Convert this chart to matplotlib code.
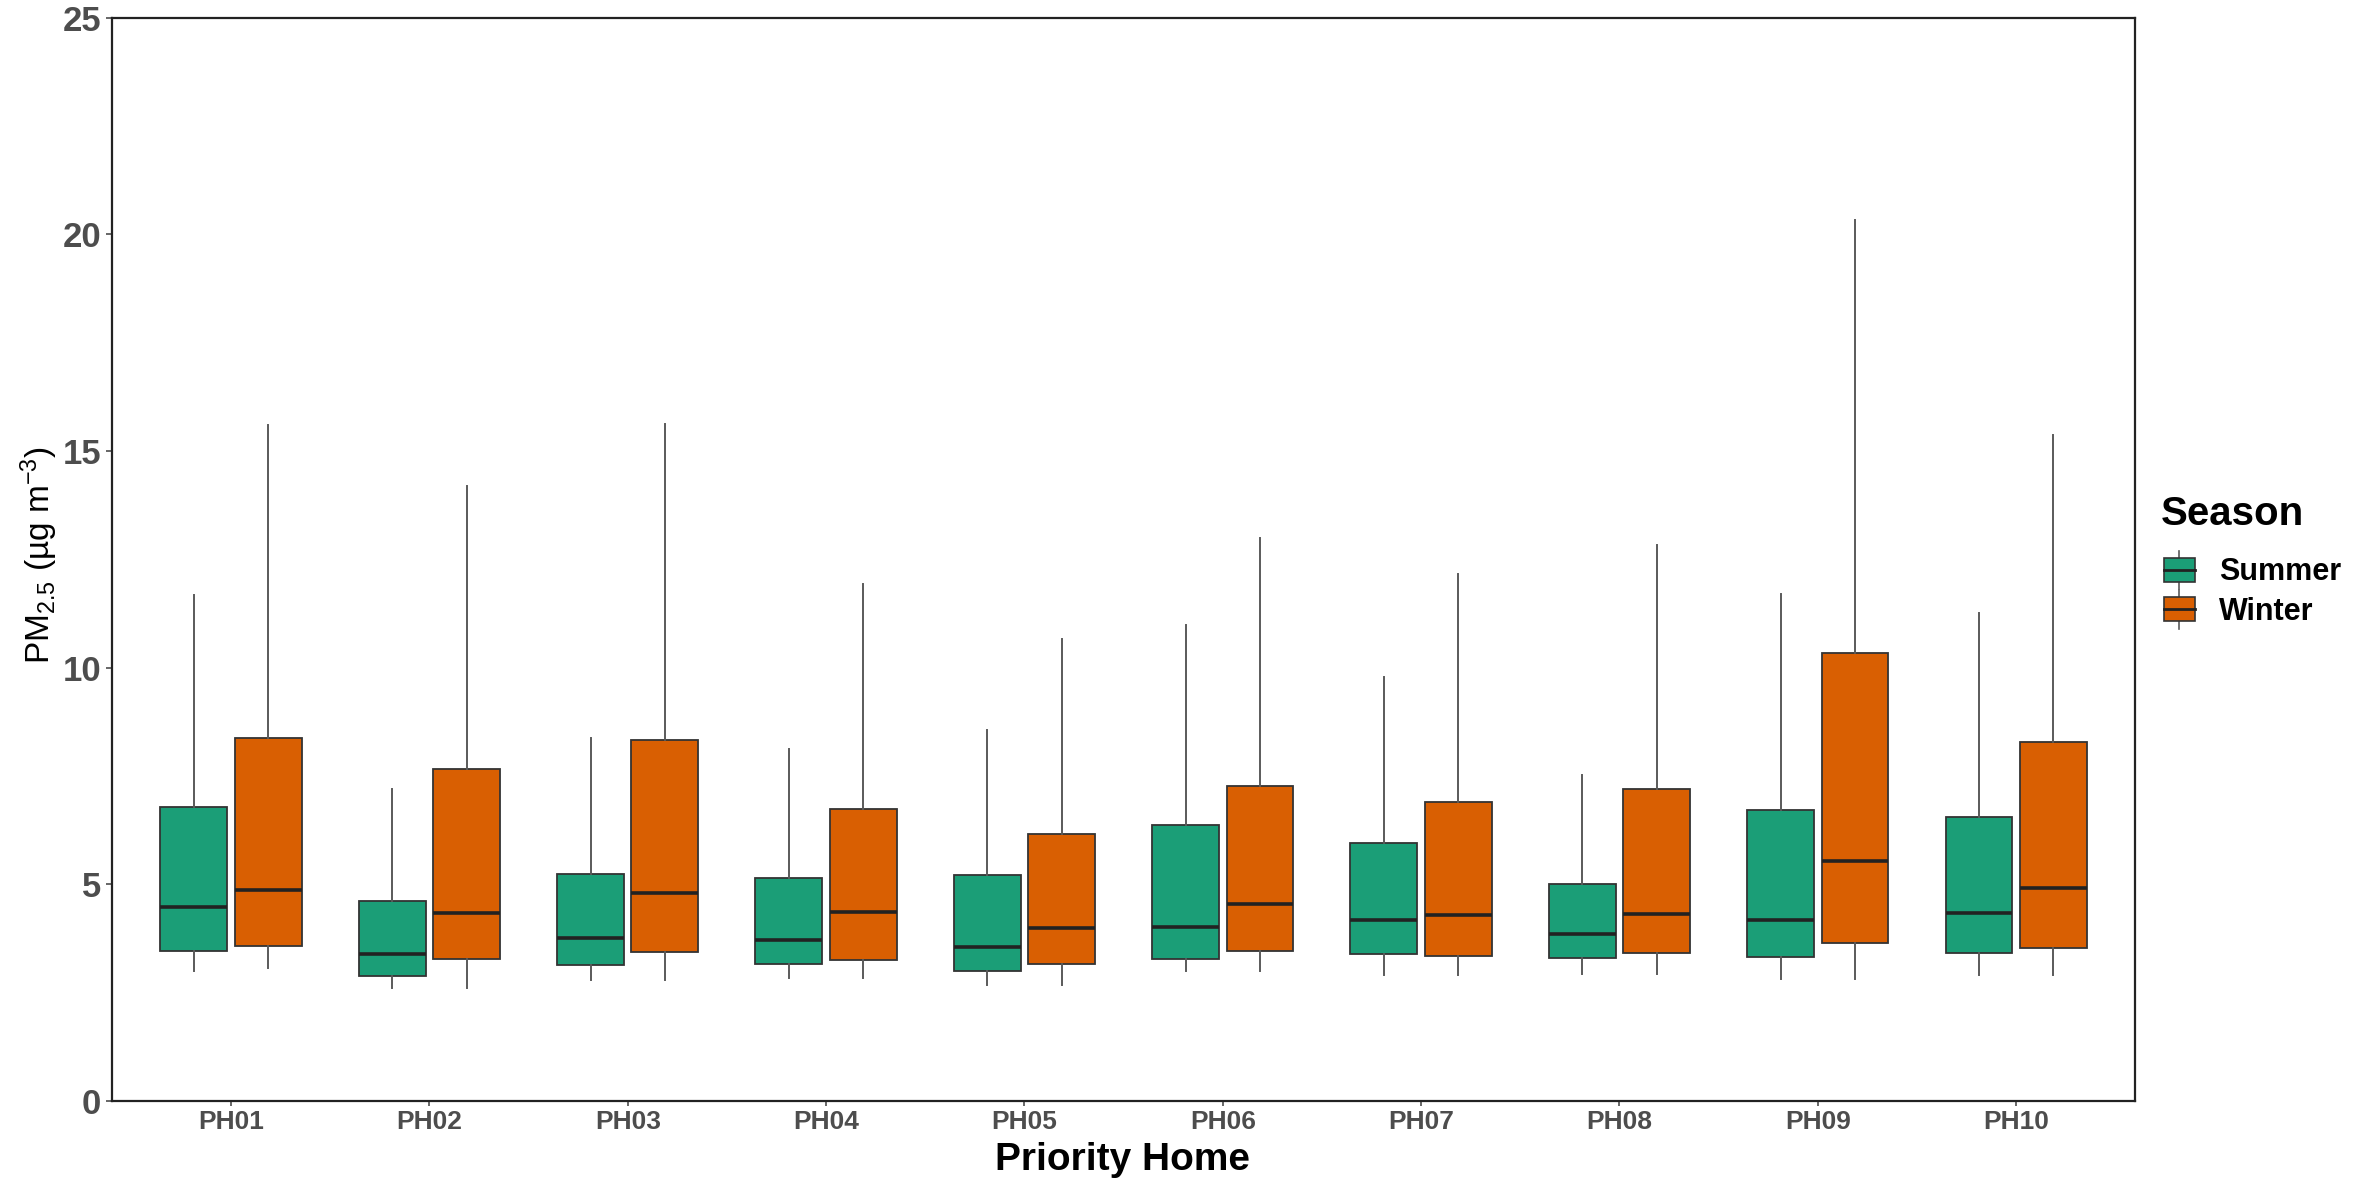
import matplotlib
matplotlib.use("Agg")
import matplotlib.pyplot as plt
from matplotlib.legend_handler import HandlerBase
from matplotlib.patches import Rectangle
from matplotlib.lines import Line2D

plt.rcParams["font.family"] = ["Liberation Sans", "DejaVu Sans"]
plt.rcParams["mathtext.fontset"] = "custom"
plt.rcParams["mathtext.rm"] = "Liberation Sans"
plt.rcParams["mathtext.it"] = "Liberation Sans"

# --- dane (min, Q1, mediana, Q3, max wąsów) ---
homes = ["PH01", "PH02", "PH03", "PH04", "PH05", "PH06", "PH07", "PH08", "PH09", "PH10"]
seasons = ["Summer", "Winter"]
colors = ["#1B9E77", "#D95F02"]

summer_low = [3.00, 2.61, 2.80, 2.84, 2.68, 2.99, 2.91, 2.93, 2.81, 2.91]
summer_q1 = [3.46, 2.88, 3.14, 3.15, 2.99, 3.27, 3.40, 3.31, 3.33, 3.41]
summer_med = [4.48, 3.38, 3.76, 3.71, 3.56, 4.01, 4.18, 3.86, 4.18, 4.34]
summer_q3 = [6.78, 4.61, 5.24, 5.15, 5.22, 6.38, 5.95, 5.00, 6.71, 6.56]
summer_high = [11.68, 7.21, 8.38, 8.13, 8.55, 10.98, 9.78, 7.52, 11.69, 11.27]

winter_low = [3.06, 2.61, 2.80, 2.84, 2.68, 2.99, 2.91, 2.93, 2.81, 2.91]
winter_q1 = [3.58, 3.27, 3.44, 3.26, 3.15, 3.46, 3.34, 3.42, 3.65, 3.53]
winter_med = [4.86, 4.34, 4.79, 4.35, 3.98, 4.55, 4.29, 4.31, 5.54, 4.91]
winter_q3 = [8.38, 7.66, 8.34, 6.73, 6.15, 7.28, 6.89, 7.20, 10.34, 8.29]
winter_high = [15.60, 14.19, 15.62, 11.93, 10.65, 12.99, 12.16, 12.84, 20.33, 15.38]


def make_stats(low, q1, med, q3, high):
    return [
        {"whislo": a, "q1": b, "med": c, "q3": d, "whishi": e, "fliers": []}
        for a, b, c, d, e in zip(low, q1, med, q3, high)
    ]


stats = {
    "Summer": make_stats(summer_low, summer_q1, summer_med, summer_q3, summer_high),
    "Winter": make_stats(winter_low, winter_q1, winter_med, winter_q3, winter_high),
}

fig = plt.figure(figsize=(23.69, 11.78), dpi=100)
ax = fig.add_axes([0.0473, 0.0654, 0.854, 0.9196])

box_w = 0.3375
offsets = [-0.1875, 0.1875]
for season, col, off in zip(seasons, colors, offsets):
    pos = [i + off for i in range(len(homes))]
    ax.bxp(
        stats[season], positions=pos, widths=box_w, patch_artist=True,
        showcaps=False, showfliers=False, manage_ticks=False,
        boxprops=dict(facecolor=col, edgecolor="#333333", linewidth=1.3),
        medianprops=dict(color="#222222", linewidth=2.6),
        whiskerprops=dict(color="#5a5a5a", linewidth=1.4),
    )

ax.set_xlim(-0.6, len(homes) - 0.4)
ax.set_ylim(0, 25)
ax.set_xticks(range(len(homes)))
ax.set_xticklabels(homes)
ax.set_yticks([0, 5, 10, 15, 20, 25])

for s in ax.spines.values():
    s.set_color("#222222")
    s.set_linewidth(1.6)

ax.tick_params(axis="both", colors="#4D4D4D", width=1.2)
ax.tick_params(axis="y", labelsize=25, length=4, pad=4)
ax.tick_params(axis="x", labelsize=19, length=3.5, pad=3)
for lab in ax.get_xticklabels() + ax.get_yticklabels():
    lab.set_fontweight("bold")
    lab.set_color("#4D4D4D")

fig.text(0.4738, 0.0065, "Priority Home", fontsize=28, fontweight="bold",
         ha="center", va="baseline")
fig.text(0.0165, 0.529, r"PM$_{2.5}$ (µg m$^{-3}$)", fontsize=24,
         rotation=90, ha="center", va="center")


class BoxHandler(HandlerBase):
    def create_artists(self, legend, orig_handle, xdescent, ydescent,
                       width, height, fontsize, trans):
        col = orig_handle.get_facecolor()
        cx = -xdescent + width / 2
        bh = height * 0.95
        by = -ydescent + (height - bh) / 2
        whisk = Line2D([cx, cx], [by - 0.3 * bh, by + 1.3 * bh],
                       color="#5a5a5a", lw=1.2, transform=trans)
        rect = Rectangle((-xdescent, by), width, bh, facecolor=col,
                         edgecolor="#333333", lw=1.2, transform=trans)
        med = Line2D([-xdescent, -xdescent + width], [by + bh / 2, by + bh / 2],
                     color="#222222", lw=2.0, transform=trans)
        return [whisk, rect, med]


# tytuł legendy osobno, żeby ustawić odstęp jak w oryginale
fig.text(0.9122, 0.5637, "Season", fontsize=29, fontweight="bold",
         ha="left", va="center")
handles = [Rectangle((0, 0), 1, 1, facecolor=c) for c in colors]
leg = fig.legend(
    handles, seasons, loc="upper left", bbox_to_anchor=(0.9135, 0.527),
    frameon=False, handler_map={Rectangle: BoxHandler()},
    prop=dict(weight="bold", size=22), borderpad=0, borderaxespad=0,
    handlelength=1.0, handleheight=0.9,
    handletextpad=0.8, labelspacing=0.3,
)

fig.savefig("out.png", dpi=100, facecolor="white")
